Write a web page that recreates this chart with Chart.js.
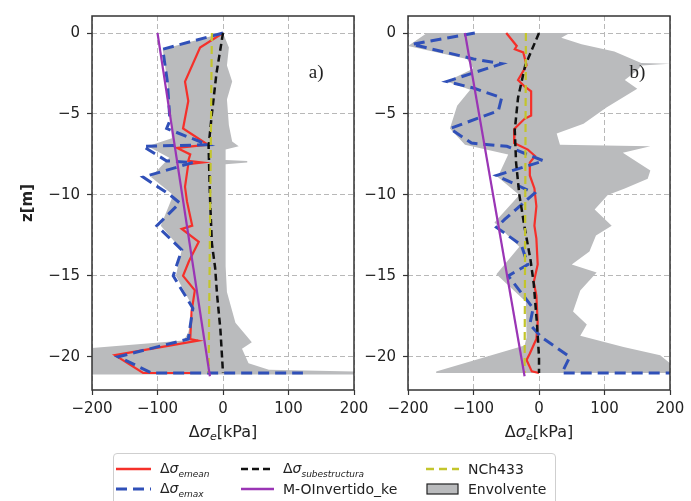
<!DOCTYPE html>
<html>
<head>
<meta charset="utf-8">
<script src="https://cdn.jsdelivr.net/npm/chart.js@4.4.1/dist/chart.umd.min.js"></script>
<style>
  html, body { margin: 0; padding: 0; background: #fff; }
  body { width: 691px; height: 501px; position: relative; overflow: hidden; font-family: "DejaVu Sans", sans-serif; color: #222; }
  canvas { position: absolute; left: 0; top: 0; }
  .xtitle { position: absolute; width: 200px; text-align: center; font-size: 16px; top: 422px; line-height: 20px; }
  .xtitle sub { font-size: 11px; vertical-align: -3px; font-style: italic; }
  #legend { position: absolute; left: 113px; top: 453px; width: 441px; height: 62px; border: 1px solid #cfcfcf; border-radius: 4px; background: #fff; }
  .item { position: absolute; height: 20px; display: flex; align-items: center; font-size: 14px; white-space: nowrap; }
  .item svg { margin-right: 9px; flex: none; }
  .item sub { font-size: 9px; font-style: italic; vertical-align: -4px; }
</style>
</head>
<body>
<canvas id="panelA" width="691" height="450"></canvas>
<canvas id="panelB" width="691" height="450"></canvas>
<div class="xtitle" style="left:123px">Δ<i>σ</i><sub>e</sub>[kPa]</div>
<div class="xtitle" style="left:439px">Δ<i>σ</i><sub>e</sub>[kPa]</div>
<div id="legend">
  <div class="item" style="left:2px;top:5px"><svg width="35" height="10"><line x1="0" y1="5" x2="35" y2="5" stroke="#f5302a" stroke-width="2.5"/></svg><span>Δ<i>σ</i><sub>emean</sub></span></div>
  <div class="item" style="left:2px;top:25px"><svg width="35" height="10"><line x1="0" y1="5" x2="35" y2="5" stroke="#3050b8" stroke-width="3" stroke-dasharray="11 6"/></svg><span>Δ<i>σ</i><sub>emax</sub></span></div>
  <div class="item" style="left:127px;top:5px"><svg width="33" height="10"><line x1="0" y1="5" x2="33" y2="5" stroke="#111" stroke-width="2.5" stroke-dasharray="7 4"/></svg><span>Δ<i>σ</i><sub>subestructura</sub></span></div>
  <div class="item" style="left:127px;top:25px"><svg width="33" height="10"><line x1="0" y1="5" x2="33" y2="5" stroke="#9a35b5" stroke-width="2.5"/></svg><span>M-OInvertido_ke</span></div>
  <div class="item" style="left:312px;top:5px"><svg width="33" height="10"><line x1="0" y1="5" x2="33" y2="5" stroke="#c3c52c" stroke-width="2.5" stroke-dasharray="8 5"/></svg><span>NCh433</span></div>
  <div class="item" style="left:312px;top:25px"><svg width="33" height="12"><rect x="1" y="1" width="31" height="10" fill="#babbbd" stroke="#222" stroke-width="1.2"/></svg><span>Envolvente</span></div>
</div>
<script>
// ---- tick labels ----
const xTicks = [-200, -100, 0, 100, 200];
const zTicks = [0, -5, -10, -15, -20];

// ---- panel a) ----
const aMeanX = [0, -35, -58, -53, -61, -23, -70, -50, -53, -32, -53, -58, -55, -47, -63, -37, -52, -61, -43, -48, -50, -38, -165, -122, -40];
const aMeanZ = [0, -0.9, -3, -4.2, -5.9, -6.9, -7.1, -7.5, -7.9, -8, -8.1, -9.5, -10.4, -11.9, -12.1, -12.9, -14.1, -15, -15.9, -17.2, -18.9, -19, -19.9, -21, -21];
const aMaxX = [0, -92, -85, -81, -86, -23, -122, -86, -46, -122, -81, -66, -101, -63, -76, -46, -53, -160, -109, 122];
const aMaxZ = [0, -1, -3, -5.4, -5.9, -6.9, -7, -7.9, -8, -8.9, -10, -10.5, -11.9, -13.4, -15, -17, -18.9, -20, -21, -21];
const aSubX = [0, -10, -17, -22, -20, -17, -12, -9, -4, 0];
const aSubZ = [0, -2.5, -5, -7, -10, -13, -14.5, -16.2, -18.3, -21];
const aMoiX = [-100, -20];
const aMoiZ = [0, -21.2];
const aNchX = [-17, -22];
const aNchZ = [0, -21];
const aEnvLoX = [0, -92, -85, -80, -78, -115, -82, -110, -76, -95, -63, -72, -45, -53, -60, -200, -200];
const aEnvLoZ = [0, -1, -3, -5.4, -6.5, -7, -7.7, -8.9, -10, -11.9, -13.4, -15, -17, -18.5, -19, -19.45, -21.1];
const aEnvHiX = [0, 9, 6, 14, 6, 9, 14, 24, 4, 4, 37, 37, 4, 4, 6, 19, 44, 29, 39, 70, 200, 200];
const aEnvHiZ = [0, -0.9, -2, -3, -4.1, -5.7, -6.7, -7, -7.2, -7.85, -7.9, -8.0, -8.1, -14.4, -16, -17.9, -19.1, -19.5, -20.4, -20.8, -20.9, -21.1];

// ---- panel b) ----
const bMeanX = [-50, -34, -37, -24, -19, -32, -22, -12, -12, -22, -37, -38, -17, -6, -14, -14, -7, -4, -7, -4, -2, -8, -4, -2, -4, -14, -19, -11, 0];
const bMeanZ = [0, -0.8, -1, -1.2, -2, -2.9, -3.3, -3.6, -5.1, -5.3, -5.9, -6.8, -7.2, -7.6, -8, -8.8, -9.6, -10.7, -11.9, -12.7, -14.3, -15.4, -16.2, -17.9, -18.9, -19.8, -20.2, -20.9, -21];
const bMaxX = [-98, -194, -100, -57, -141, -100, -57, -62, -136, -103, -49, 7, -65, -7, -52, -65, -27, -17, -47, -9, -14, 4, 47, 35, 200];
const bMaxZ = [0, -0.7, -1.6, -1.9, -3, -3.4, -4, -4.8, -5.9, -6.8, -7, -7.9, -8.8, -9.9, -11.5, -12, -13.1, -14.3, -15, -17, -18, -18.8, -20, -21, -21];
const bSubX = [0, -21, -32, -37, -35, -30, -22, -13, -8, -3, 0, 0];
const bSubZ = [0, -2, -4, -6, -8, -10, -12, -14, -15.5, -18, -20, -21];
const bMoiX = [-113, -22];
const bMoiZ = [0, -21.2];
const bNchX = [-20, -22];
const bNchZ = [0, -21];
const bEnvLoX = [-171, -200, -110, -100, -141, -105, -125, -136, -113, -47, -63, -30, -68, -30, -65, -20, -19, -22, -157, -157];
const bEnvLoZ = [0, -0.8, -1.6, -2.2, -3, -3.5, -4.5, -5.9, -6.9, -7.5, -8.9, -10, -11.7, -13.2, -14.9, -16.6, -18.8, -19.3, -20.9, -21];
const bEnvHiX = [47, 34, 65, 115, 156, 200, 156, 150, 131, 150, 103, 68, 27, 32, 170, 128, 151, 170, 166, 131, 105, 85, 111, 87, 77, 50, 88, 63, 52, 73, 63, 129, 185, 200, 200];
const bEnvHiZ = [0, -0.3, -0.7, -1.15, -1.85, -1.9, -2.0, -2.3, -2.9, -3.45, -4.6, -5.6, -6.2, -6.9, -7.0, -7.4, -8.0, -8.5, -9.0, -9.6, -10, -10.9, -11.9, -12.5, -13.5, -14.3, -14.8, -15.9, -17.2, -18.0, -18.7, -19.4, -19.9, -20.4, -21];

// panel tags
const tagA = 'a)';
const tagB = 'b)';

const RED = '#f5302a';
const BLUE = '#3050b8';
const BLACK = '#111111';
const PURPLE = '#9a35b5';
const OLIVE = '#c3c52c';
const GRAY = '#babbbd';

Chart.defaults.font.family = '"DejaVu Sans", sans-serif';
Chart.defaults.color = '#222';

function line(xs, zs) {
    return xs.map((x, i) => ({ x: x, y: zs[i] }));
}

function envelope(loX, loZ, hiX, hiZ) {
    return line(loX, loZ).concat(line(hiX, hiZ).reverse());
}

function minus(v) {
    return v < 0 ? '\u2212' + Math.abs(v) : String(v);
}

const framePlugin = {
    id: 'frame',
    afterDatasetsDraw(chart, args, opts) {
        const { ctx, chartArea: a } = chart;
        ctx.save();
        ctx.strokeStyle = '#333';
        ctx.lineWidth = 1.5;
        ctx.strokeRect(a.left, a.top, a.right - a.left, a.bottom - a.top);
        ctx.font = '19px "Liberation Serif", serif';
        ctx.fillStyle = '#222';
        ctx.textBaseline = 'middle';
        ctx.fillText(opts.tag, chart.scales.x.getPixelForValue(opts.tx), chart.scales.y.getPixelForValue(opts.tz));
        ctx.restore();
    }
};

function makePanel(canvasId, s) {
    const datasets = [
        { label: 'Envolvente', data: envelope(s.loX, s.loZ, s.hiX, s.hiZ), fill: 'shape', backgroundColor: GRAY, borderColor: 'rgba(0,0,0,0)', borderWidth: 0, order: 6 },
        { label: 'emean', data: line(s.meanX, s.meanZ), borderColor: RED, borderWidth: 2.2, order: 5 },
        { label: 'emax', data: line(s.maxX, s.maxZ), borderColor: BLUE, borderWidth: 3, borderDash: [11, 6], order: 4 },
        { label: 'subestructura', data: line(s.subX, s.subZ), borderColor: BLACK, borderWidth: 2.5, borderDash: [7, 4], order: 3 },
        { label: 'NCh433', data: line(s.nchX, s.nchZ), borderColor: OLIVE, borderWidth: 2.2, borderDash: [8, 5], order: 2 },
        { label: 'M-OInvertido_ke', data: line(s.moiX, s.moiZ), borderColor: PURPLE, borderWidth: 2.2, order: 1 }
    ];

    return new Chart(document.getElementById(canvasId), {
        type: 'scatter',
        data: { datasets },
        options: {
            responsive: false,
            animation: false,
            devicePixelRatio: 1,
            showLine: true,
            layout: { padding: { left: s.padLeft, right: s.padRight, top: 14, bottom: 0 } },
            elements: { point: { radius: 0, hoverRadius: 0 }, line: { tension: 0, fill: false } },
            plugins: {
                legend: { display: false },
                tooltip: { enabled: false },
                frame: { tag: s.tag, tx: s.tagX, tz: s.tagZ }
            },
            scales: {
                x: {
                    type: 'linear',
                    min: -200,
                    max: 200,
                    afterBuildTicks: (scale) => { scale.ticks = xTicks.map(v => ({ value: v })); },
                    afterFit: (scale) => { scale.height = 60; },
                    ticks: { font: { size: 15 }, color: '#222', padding: 5, maxRotation: 0, callback: minus },
                    grid: { color: '#b8b8b8', lineWidth: 1, tickLength: 5, tickColor: '#333', tickWidth: 1.2 },
                    border: { display: false, dash: [5, 3] }
                },
                y: {
                    type: 'linear',
                    min: -22.05,
                    max: 1.05,
                    afterBuildTicks: (scale) => { scale.ticks = zTicks.map(v => ({ value: v })); },
                    afterFit: (scale) => { scale.width = s.yWidth; },
                    ticks: { font: { size: 15 }, color: '#222', padding: 7, callback: minus },
                    grid: { color: '#b8b8b8', lineWidth: 1, tickLength: 5, tickColor: '#333', tickWidth: 1.2 },
                    border: { display: false, dash: [5, 3] },
                    title: { display: s.yTitle, text: 'z[m]', font: { size: 15, weight: 'bold' }, color: '#222', padding: { top: 19, bottom: 0 } }
                }
            }
        },
        plugins: [framePlugin]
    });
}

makePanel('panelA', {
    meanX: aMeanX, meanZ: aMeanZ, maxX: aMaxX, maxZ: aMaxZ, subX: aSubX, subZ: aSubZ,
    moiX: aMoiX, moiZ: aMoiZ, nchX: aNchX, nchZ: aNchZ,
    loX: aEnvLoX, loZ: aEnvLoZ, hiX: aEnvHiX, hiZ: aEnvHiZ,
    padLeft: 0, padRight: 337, yWidth: 92, yTitle: true,
    tag: tagA, tagX: 131, tagZ: -2.5
});

makePanel('panelB', {
    meanX: bMeanX, meanZ: bMeanZ, maxX: bMaxX, maxZ: bMaxZ, subX: bSubX, subZ: bSubZ,
    moiX: bMoiX, moiZ: bMoiZ, nchX: bNchX, nchZ: bNchZ,
    loX: bEnvLoX, loZ: bEnvLoZ, hiX: bEnvHiX, hiZ: bEnvHiZ,
    padLeft: 360, padRight: 21, yWidth: 48, yTitle: false,
    tag: tagB, tagX: 138, tagZ: -2.5
});
</script>
</body>
</html>
